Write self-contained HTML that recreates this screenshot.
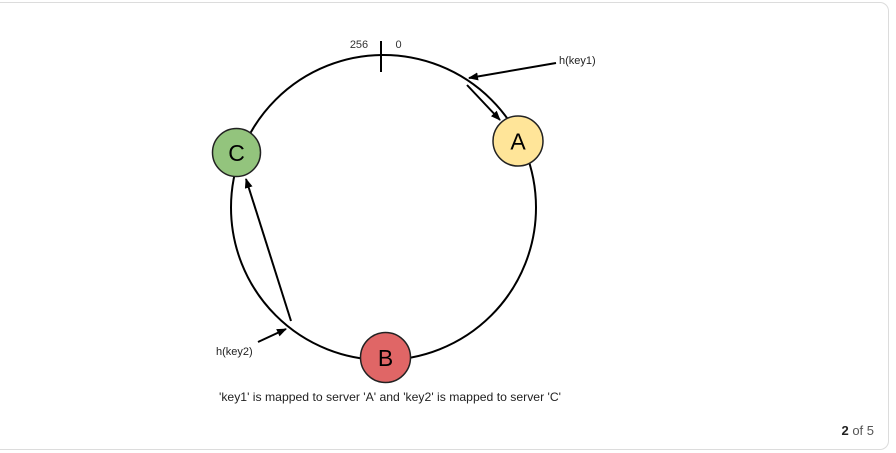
<!DOCTYPE html>
<html>
<head>
<meta charset="utf-8">
<style>
  html,body{margin:0;padding:0;background:#fff;}
  body{width:896px;height:453px;overflow:hidden;position:relative;font-family:"Liberation Sans",Arial,sans-serif;}
  .card{position:absolute;left:-10px;top:2px;width:897px;height:446px;border:1px solid #dcdcdc;border-radius:9px;background:#fff;}
  .pager{position:absolute;right:22px;top:423px;font-size:13px;color:#555;font-family:"Liberation Sans",Arial,sans-serif;}
  .pager b{color:#222;}
  svg{position:absolute;left:0;top:0;}
</style>
</head>
<body>
<div class="card"></div>
<svg width="896" height="453" viewBox="0 0 896 453" xmlns="http://www.w3.org/2000/svg">
  <defs>
    <marker id="ah" markerWidth="10" markerHeight="8" refX="9" refY="4" orient="auto" markerUnits="userSpaceOnUse">
      <path d="M0,0 L10,4 L0,8 Z" fill="#000"/>
    </marker>
  </defs>
  <circle cx="383.5" cy="207.5" r="152.5" fill="none" stroke="#000" stroke-width="2"/>
  <!-- tick -->
  <line x1="381" y1="41" x2="381" y2="72" stroke="#000" stroke-width="2"/>
  <text x="359" y="48" font-size="11" fill="#333" text-anchor="middle" font-family="Liberation Sans, Arial, sans-serif">256</text>
  <text x="398.5" y="48" font-size="11" fill="#333" text-anchor="middle" font-family="Liberation Sans, Arial, sans-serif">0</text>

  <!-- h(key1) arrows -->
  <line x1="556" y1="63" x2="469" y2="78" stroke="#000" stroke-width="2" marker-end="url(#ah)"/>
  <line x1="467" y1="85" x2="500" y2="120" stroke="#000" stroke-width="2" marker-end="url(#ah)"/>
  <text x="559" y="64" font-size="11" fill="#222" font-family="Liberation Sans, Arial, sans-serif">h(key1)</text>

  <!-- h(key2) arrows -->
  <line x1="291" y1="321" x2="246" y2="179" stroke="#000" stroke-width="2" marker-end="url(#ah)"/>
  <line x1="258" y1="342" x2="286" y2="329" stroke="#000" stroke-width="2" marker-end="url(#ah)"/>
  <text x="216" y="355" font-size="11" fill="#222" font-family="Liberation Sans, Arial, sans-serif">h(key2)</text>

  <!-- nodes -->
  <circle cx="236.5" cy="152.5" r="24" fill="#93c47d" stroke="#222" stroke-width="1.5"/>
  <text x="236.5" y="161" font-size="23" text-anchor="middle" fill="#000" font-family="Liberation Sans, Arial, sans-serif">C</text>

  <circle cx="518" cy="141" r="25" fill="#ffe599" stroke="#222" stroke-width="1.5"/>
  <text x="518" y="149.5" font-size="23" text-anchor="middle" fill="#000" font-family="Liberation Sans, Arial, sans-serif">A</text>

  <circle cx="385.5" cy="357.5" r="25" fill="#e06666" stroke="#222" stroke-width="1.5"/>
  <text x="385.5" y="366" font-size="23" text-anchor="middle" fill="#000" font-family="Liberation Sans, Arial, sans-serif">B</text>

  <text x="219" y="401" font-size="12" fill="#222" textLength="342" lengthAdjust="spacingAndGlyphs" font-family="Liberation Sans, Arial, sans-serif">'key1' is mapped to server 'A' and 'key2' is mapped to server 'C'</text>
</svg>
<div class="pager"><b>2</b> of 5</div>
</body>
</html>
